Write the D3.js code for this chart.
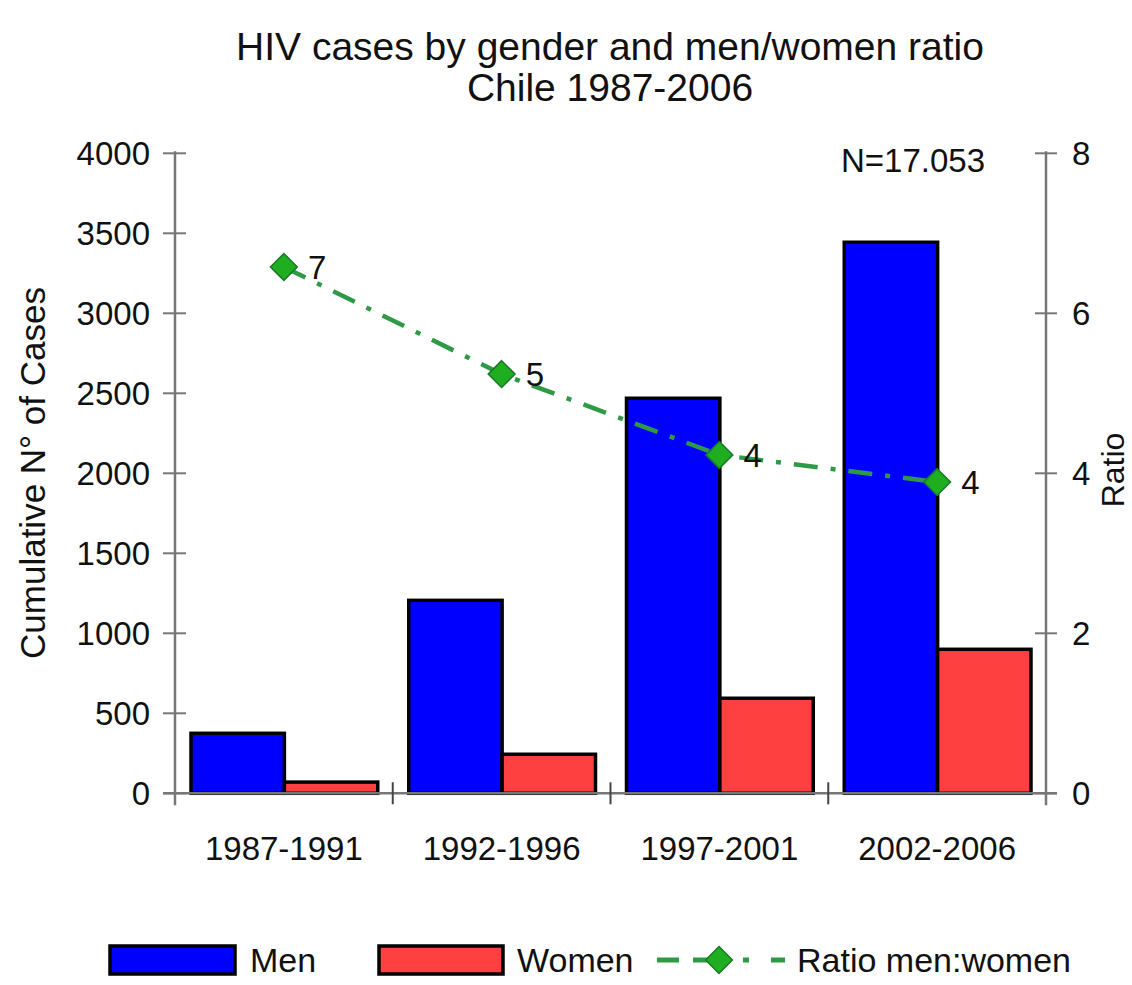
<!DOCTYPE html>
<html lang="en">
<head>
<meta charset="UTF-8">
<title>HIV cases by gender</title>
<style>
  body { margin: 0; background: #fff; }
  svg text { font-family: "Liberation Sans Narrow", "Arial Narrow", "Liberation Sans", sans-serif; fill: #111; }
</style>
</head>
<body>
<svg id="chart" width="1132" height="985"></svg>
<script src="https://cdn.jsdelivr.net/npm/d3@7"></script>
<script>
/* global d3 */

// data
var periods = ["1987-1991", "1992-1996", "1997-2001", "2002-2006"];
var men = [375, 1206, 2469, 3444];
var women = [70, 244, 594, 900];
var ratio = [6.58, 5.24, 4.23, 3.89];
var ratioLabels = ["7", "5", "4", "4"];
var leftTicks = [0, 500, 1000, 1500, 2000, 2500, 3000, 3500, 4000];
var rightTicks = [0, 2, 4, 6, 8];

var svg = d3.select("#chart");
var plotLeft = 175, plotRight = 1046, plotTop = 153.3, plotBottom = 793.3;

var x = d3.scaleBand().domain(periods).range([plotLeft, plotRight]).padding(0);
var xs = d3.scaleBand().domain(["Men", "Women"]).range([16, x.bandwidth() - 15]).padding(0);
var y = d3.scaleLinear().domain([0, 4000]).range([plotBottom, plotTop]);
var y2 = d3.scaleLinear().domain([0, 8]).range([plotBottom, plotTop]);

var axisColor = "#777";

// title
svg.append("text").attr("x", 610).attr("y", 60).attr("text-anchor", "middle")
    .style("font-size", "39px").text("HIV cases by gender and men/women ratio");
svg.append("text").attr("x", 610).attr("y", 101).attr("text-anchor", "middle")
    .style("font-size", "39px").text("Chile 1987-2006");

// bars
var groups = svg.append("g").selectAll("g").data(periods).join("g")
    .attr("transform", d => "translate(" + x(d) + ",0)");

groups.append("rect")
    .attr("x", xs("Men")).attr("width", xs.bandwidth())
    .attr("y", (d, i) => y(men[i])).attr("height", (d, i) => plotBottom - y(men[i]))
    .attr("fill", "#0000ff").attr("stroke", "#000").attr("stroke-width", 3.5);

groups.append("rect")
    .attr("x", xs("Women")).attr("width", xs.bandwidth())
    .attr("y", (d, i) => y(women[i])).attr("height", (d, i) => plotBottom - y(women[i]))
    .attr("fill", "#ff4040").attr("stroke", "#000").attr("stroke-width", 3.5);

// left axis
var gl = svg.append("g").attr("transform", "translate(" + plotLeft + ",0)")
    .call(d3.axisLeft(y).tickValues(leftTicks).tickFormat(d3.format("d")).tickSize(0).tickPadding(25));
gl.select(".domain").remove();
gl.selectAll("text").style("font-size", "33px").attr("dy", "0.35em");
svg.append("line").attr("x1", plotLeft).attr("x2", plotLeft).attr("y1", plotTop - 2).attr("y2", plotBottom + 12)
    .attr("stroke", axisColor).attr("stroke-width", 2.5);
svg.selectAll(".ltick").data(leftTicks).join("line").attr("class", "ltick")
    .attr("x1", plotLeft - 12).attr("x2", plotLeft + 11)
    .attr("y1", d => y(d)).attr("y2", d => y(d))
    .attr("stroke", axisColor).attr("stroke-width", 2);

// right axis
var gr = svg.append("g").attr("transform", "translate(" + plotRight + ",0)")
    .call(d3.axisRight(y2).tickValues(rightTicks).tickSize(0).tickPadding(26));
gr.select(".domain").remove();
gr.selectAll("text").style("font-size", "33px").attr("dy", "0.35em");
svg.append("line").attr("x1", plotRight).attr("x2", plotRight).attr("y1", plotTop - 2).attr("y2", plotBottom + 12)
    .attr("stroke", axisColor).attr("stroke-width", 2.5);
svg.selectAll(".rtick").data(rightTicks).join("line").attr("class", "rtick")
    .attr("x1", plotRight - 11).attr("x2", plotRight + 11)
    .attr("y1", d => y2(d)).attr("y2", d => y2(d))
    .attr("stroke", axisColor).attr("stroke-width", 2);

// bottom axis
svg.append("line").attr("x1", plotLeft - 12).attr("x2", plotRight + 11).attr("y1", plotBottom).attr("y2", plotBottom)
    .attr("stroke", axisColor).attr("stroke-width", 2.5);
svg.selectAll(".btick").data(periods.slice(1)).join("line").attr("class", "btick")
    .attr("x1", d => x(d)).attr("x2", d => x(d))
    .attr("y1", plotBottom - 11).attr("y2", plotBottom + 11)
    .attr("stroke", "#444").attr("stroke-width", 2);
svg.selectAll(".blabel").data(periods).join("text").attr("class", "blabel")
    .attr("x", d => x(d) + x.bandwidth() / 2).attr("y", 860)
    .attr("text-anchor", "middle").style("font-size", "33px").text(d => d);

// axis titles
svg.append("text").attr("transform", "translate(45,473) rotate(-90)")
    .attr("text-anchor", "middle").style("font-size", "35px").text("Cumulative N° of Cases");
svg.append("text").attr("transform", "translate(1124,470) rotate(-90)")
    .attr("text-anchor", "middle").style("font-size", "32px").text("Ratio");

svg.append("text").attr("x", 985).attr("y", 172).attr("text-anchor", "end")
    .style("font-size", "33px").text("N=17.053");

// ratio line
var lineColor = "#2f9a45";
var line = d3.line()
    .x((d, i) => x(periods[i]) + x.bandwidth() / 2)
    .y(d => y2(d));
svg.append("path").datum(ratio).attr("d", line)
    .attr("fill", "none").attr("stroke", lineColor).attr("stroke-width", 4.5)
    .attr("stroke-dasharray", "24,13,5,13");

var diamond = d3.symbol().type(d3.symbolDiamond2).size(460);
svg.selectAll(".pt").data(ratio).join("path").attr("class", "pt")
    .attr("d", diamond)
    .attr("transform", (d, i) => "translate(" + (x(periods[i]) + x.bandwidth() / 2) + "," + y2(d) + ")")
    .attr("fill", "#1fae1f").attr("stroke", "#1a7a2a").attr("stroke-width", 1.5);

svg.selectAll(".plabel").data(ratio).join("text").attr("class", "plabel")
    .attr("x", (d, i) => x(periods[i]) + x.bandwidth() / 2 + 24)
    .attr("y", d => y2(d) + 12)
    .style("font-size", "33px").text((d, i) => ratioLabels[i]);

// legend
var lg = svg.append("g");
lg.append("rect").attr("x", 110).attr("y", 946).attr("width", 125).attr("height", 28)
    .attr("fill", "#0000ff").attr("stroke", "#000").attr("stroke-width", 3.5);
lg.append("text").attr("x", 250).attr("y", 972).style("font-size", "34px").text("Men");
lg.append("rect").attr("x", 379).attr("y", 946).attr("width", 124).attr("height", 28)
    .attr("fill", "#ff4040").attr("stroke", "#000").attr("stroke-width", 3.5);
lg.append("text").attr("x", 517).attr("y", 972).style("font-size", "34px").text("Women");
lg.append("line").attr("x1", 657).attr("x2", 790).attr("y1", 960).attr("y2", 960)
    .attr("stroke", lineColor).attr("stroke-width", 5).attr("stroke-dasharray", "22,14,36,14,6");
lg.append("path").attr("d", diamond).attr("transform", "translate(719,960)")
    .attr("fill", "#1fae1f").attr("stroke", "#1a7a2a").attr("stroke-width", 1.5);
lg.append("text").attr("x", 797).attr("y", 972).style("font-size", "34px").text("Ratio men:women");
</script>
</body>
</html>
